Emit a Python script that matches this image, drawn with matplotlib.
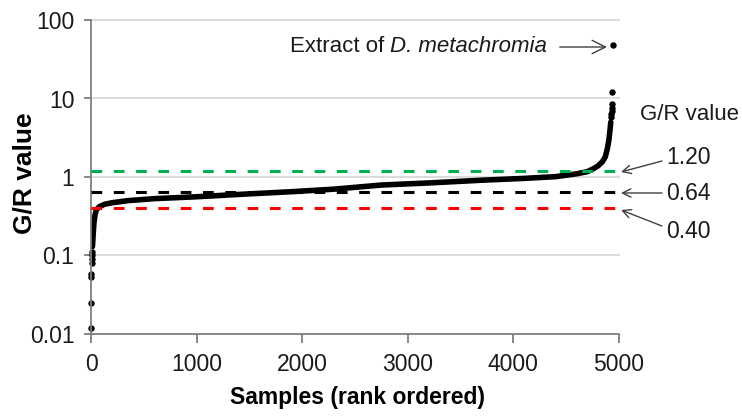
import matplotlib
matplotlib.use("Agg")
import matplotlib.pyplot as plt
from matplotlib import font_manager
from matplotlib.ticker import FixedLocator, FixedFormatter, NullLocator

# pick a condensed sans if it is there
names = {f.name for f in font_manager.fontManager.ttflist}
FONT = "Liberation Sans Narrow" if "Liberation Sans Narrow" in names else "Liberation Sans"

plt.rcParams["font.family"] = [FONT, "DejaVu Sans"]

# data (rank, G/R value)
low_rank = [1, 2, 3, 4, 6, 8, 10, 12]
low_val = [0.012, 0.025, 0.054, 0.058, 0.08, 0.09, 0.10, 0.11]

curve_rank = [14, 20, 28, 38, 50, 80, 130, 200, 350, 600, 1000, 1400, 1900,
              2300, 2750, 3200, 3700, 4100, 4400, 4600, 4700, 4760, 4800,
              4840, 4870, 4890, 4905, 4915, 4922]
curve_val = [0.13, 0.18, 0.26, 0.33, 0.38, 0.42, 0.45, 0.47, 0.50, 0.53, 0.56,
             0.60, 0.65, 0.70, 0.79, 0.84, 0.91, 0.96, 1.01, 1.10, 1.17, 1.28,
             1.38, 1.55, 1.80, 2.30, 3.0, 4.0, 5.0]

tail_rank = [4925, 4927, 4929, 4931, 4933, 4936]
tail_val = [5.8, 6.3, 6.9, 7.6, 8.6, 12.2]

outlier_rank = 4941
outlier_val = 48

thresholds = [1.20, 0.64, 0.40]
threshold_labels = ["1.20", "0.64", "0.40"]
threshold_colors = ["#00b050", "#000000", "#ff0000"]

x_ticks = [0, 1000, 2000, 3000, 4000, 5000]
y_ticks = [0.01, 0.1, 1, 10, 100]
y_tick_labels = ["0.01", "0.1", "1", "10", "100"]

fig = plt.figure(figsize=(7.42, 4.19), dpi=100)
ax = fig.add_axes([91 / 742, 1 - 334 / 419, 528 / 742, 314 / 419])


def fx(px):
    return (px - 91) / 528


def fy(py):
    return (334 - py) / 314


ax.set_yscale("log")
ax.set_xlim(0, 5000)
ax.set_ylim(0.01, 100)

for y in [0.1, 1, 10, 100]:
    ax.axhline(y, color="#d9d9d9", lw=1.3, zorder=0, clip_on=False)

ax.plot(curve_rank, curve_val, color="black", lw=4, solid_capstyle="round",
        solid_joinstyle="round", zorder=2)
ax.plot(low_rank, low_val, "o", color="black", ms=3.6, zorder=2, clip_on=False)
ax.plot(tail_rank, tail_val, "o", color="black", ms=3.6, zorder=2)
ax.plot([outlier_rank], [outlier_val], "o", color="black", ms=3.6, zorder=2)

for v, c in zip(thresholds, threshold_colors):
    ax.axhline(v, color=c, lw=2.2, linestyle=(0, (3.5, 3.8)), zorder=3)

ax.spines["top"].set_visible(False)
ax.spines["right"].set_visible(False)
for s in ["left", "bottom"]:
    ax.spines[s].set_color("#7f7f7f")
    ax.spines[s].set_linewidth(1.3)

ax.xaxis.set_major_locator(FixedLocator(x_ticks))
ax.set_xticklabels([str(t) for t in x_ticks])
ax.yaxis.set_major_locator(FixedLocator(y_ticks))
ax.yaxis.set_major_formatter(FixedFormatter(y_tick_labels))
ax.yaxis.set_minor_locator(NullLocator())
ax.tick_params(axis="x", length=6.5, width=1.3, color="#7f7f7f", labelsize=16.5,
               pad=7, labelcolor="#1a1a1a")
ax.tick_params(axis="y", length=5, width=1.3, color="#7f7f7f", labelsize=16.5,
               pad=7, labelcolor="#1a1a1a")

ax.set_xlabel("Samples (rank ordered)", fontsize=16.5, fontweight="bold")
ax.xaxis.set_label_coords(fx(358), fy(386))
ax.set_ylabel("G/R value", fontsize=19, fontweight="bold")
ax.yaxis.set_label_coords(fx(37), fy(173))

# outlier callout: plain part, then the italic species name
t1 = ax.text(fx(290), fy(47), "Extract of ", transform=ax.transAxes,
             fontsize=16, va="center", ha="left", color="#1a1a1a")
ax.annotate("D. metachromia", xy=(fx(607), fy(47)), xycoords="axes fraction",
            xytext=(1, 0), textcoords=t1, fontsize=16, fontstyle="italic",
            va="bottom", ha="left", color="#1a1a1a",
            arrowprops=dict(arrowstyle="->,head_length=0.6,head_width=0.3",
                            color="#404040", lw=1, shrinkA=7, shrinkB=0))

# threshold key on the right
ax.text(fx(640), fy(115), "G/R value", transform=ax.transAxes, fontsize=16,
        va="center", ha="left", color="#1a1a1a")
label_y = [157, 194, 231]
arrow_from = [(662, 161), (662, 193), (662, 226)]
arrow_to = [(621, 172), (621, 193), (621, 210)]
for lab, ly, a, b in zip(threshold_labels, label_y, arrow_from, arrow_to):
    ax.text(fx(666), fy(ly), lab, transform=ax.transAxes, fontsize=16.5,
            va="center", ha="left", color="#1a1a1a")
    ax.annotate("", xy=(fx(b[0]), fy(b[1])), xycoords="axes fraction",
                xytext=(fx(a[0]), fy(a[1])), textcoords="axes fraction",
                arrowprops=dict(arrowstyle="->,head_length=0.6,head_width=0.3",
                                color="#404040", lw=1, shrinkA=0, shrinkB=0))

fig.savefig("out.png", dpi=100)
